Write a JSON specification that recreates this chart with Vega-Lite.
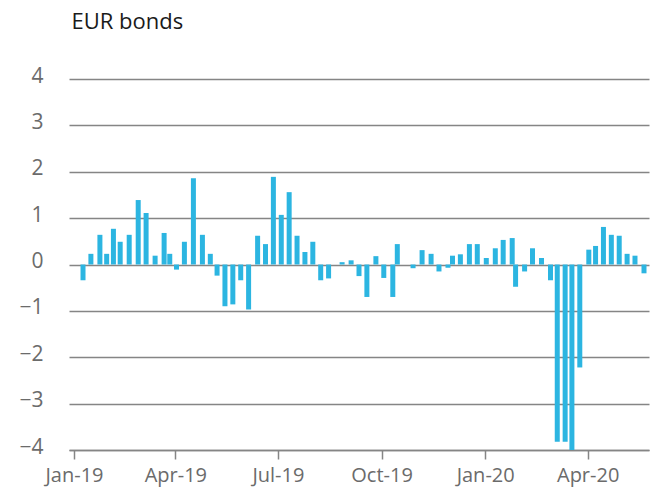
{
  "$schema": "https://vega.github.io/schema/vega-lite/v6.json",
  "autosize": {"type": "none"},
  "width": 580,
  "height": 371,
  "padding": {"left": 69, "top": 79, "right": 6, "bottom": 41},
  "background": "white",
  "config": {"view": {"stroke": null}, "font": "Open Sans"},
  "data": {
    "values": [
      {"date": "2019-01-09", "value": -0.34},
      {"date": "2019-01-16", "value": 0.23},
      {"date": "2019-01-24", "value": 0.64},
      {"date": "2019-01-30", "value": 0.23},
      {"date": "2019-02-05", "value": 0.77},
      {"date": "2019-02-11", "value": 0.49},
      {"date": "2019-02-19", "value": 0.64},
      {"date": "2019-02-27", "value": 1.39},
      {"date": "2019-03-06", "value": 1.11},
      {"date": "2019-03-14", "value": 0.19},
      {"date": "2019-03-22", "value": 0.68},
      {"date": "2019-03-27", "value": 0.23},
      {"date": "2019-04-02", "value": -0.11},
      {"date": "2019-04-09", "value": 0.49},
      {"date": "2019-04-17", "value": 1.86},
      {"date": "2019-04-25", "value": 0.64},
      {"date": "2019-05-02", "value": 0.23},
      {"date": "2019-05-08", "value": -0.24},
      {"date": "2019-05-15", "value": -0.9},
      {"date": "2019-05-22", "value": -0.86},
      {"date": "2019-05-29", "value": -0.34},
      {"date": "2019-06-05", "value": -0.97},
      {"date": "2019-06-13", "value": 0.62},
      {"date": "2019-06-20", "value": 0.44},
      {"date": "2019-06-27", "value": 1.89},
      {"date": "2019-07-04", "value": 1.07},
      {"date": "2019-07-11", "value": 1.56},
      {"date": "2019-07-18", "value": 0.62},
      {"date": "2019-07-25", "value": 0.27},
      {"date": "2019-08-01", "value": 0.49},
      {"date": "2019-08-08", "value": -0.34},
      {"date": "2019-08-15", "value": -0.3},
      {"date": "2019-08-22", "value": 0.0},
      {"date": "2019-08-27", "value": 0.05},
      {"date": "2019-09-04", "value": 0.09},
      {"date": "2019-09-11", "value": -0.25},
      {"date": "2019-09-18", "value": -0.7},
      {"date": "2019-09-26", "value": 0.18},
      {"date": "2019-10-03", "value": -0.29},
      {"date": "2019-10-11", "value": -0.7},
      {"date": "2019-10-15", "value": 0.44},
      {"date": "2019-10-29", "value": -0.08},
      {"date": "2019-11-06", "value": 0.31},
      {"date": "2019-11-14", "value": 0.23},
      {"date": "2019-11-21", "value": -0.15},
      {"date": "2019-11-29", "value": -0.07},
      {"date": "2019-12-03", "value": 0.19},
      {"date": "2019-12-10", "value": 0.22},
      {"date": "2019-12-18", "value": 0.44},
      {"date": "2019-12-25", "value": 0.44},
      {"date": "2020-01-02", "value": 0.14},
      {"date": "2020-01-10", "value": 0.35},
      {"date": "2020-01-17", "value": 0.53},
      {"date": "2020-01-25", "value": 0.57},
      {"date": "2020-01-28", "value": -0.48},
      {"date": "2020-02-05", "value": -0.15},
      {"date": "2020-02-12", "value": 0.35},
      {"date": "2020-02-20", "value": 0.14},
      {"date": "2020-02-28", "value": -0.34},
      {"date": "2020-03-05", "value": -3.82},
      {"date": "2020-03-12", "value": -3.82},
      {"date": "2020-03-18", "value": -4.0},
      {"date": "2020-03-25", "value": -2.22},
      {"date": "2020-04-02", "value": 0.32},
      {"date": "2020-04-08", "value": 0.4},
      {"date": "2020-04-15", "value": 0.81},
      {"date": "2020-04-22", "value": 0.64},
      {"date": "2020-04-29", "value": 0.62},
      {"date": "2020-05-06", "value": 0.23},
      {"date": "2020-05-13", "value": 0.19},
      {"date": "2020-05-21", "value": -0.19}
    ]
  },
  "mark": {"type": "bar", "size": 5, "color": "#2cb5e1"},
  "encoding": {
    "x": {
      "field": "date",
      "type": "temporal",
      "scale": {
        "type": "utc",
        "domain": [
          {"year": 2019, "month": 1, "date": 1, "utc": true},
          {"year": 2020, "month": 5, "date": 21, "utc": true}
        ],
        "nice": false
      },
      "axis": {
        "title": null,
        "grid": false,
        "values": [
          {"year": 2019, "month": 1, "date": 1, "utc": true},
          {"year": 2019, "month": 4, "date": 1, "utc": true},
          {"year": 2019, "month": 7, "date": 1, "utc": true},
          {"year": 2019, "month": 10, "date": 1, "utc": true},
          {"year": 2020, "month": 1, "date": 1, "utc": true},
          {"year": 2020, "month": 4, "date": 1, "utc": true}
        ],
        "labelExpr": "utcFormat(datum.value, '%b-%y')",
        "domainColor": "#858585",
        "domainWidth": 1.5,
        "tickColor": "#858585",
        "tickWidth": 1.5,
        "tickSize": 9,
        "labelPadding": 6,
        "labelFont": "Open Sans",
        "labelFontSize": 20,
        "labelColor": "#6b6b6b",
        "labelFlush": false
      }
    },
    "y": {
      "field": "value",
      "type": "quantitative",
      "scale": {"domain": [-4, 4], "nice": false},
      "axis": {
        "values": [-4, -3, -2, -1, 0, 1, 2, 3, 4],
        "domain": false,
        "ticks": false,
        "grid": true,
        "gridColor": "#858585",
        "gridWidth": 1.5,
        "labelPadding": 26,
        "labelFont": "Open Sans",
        "labelFontSize": 21,
        "labelColor": "#6b6b6b",
        "labelOffset": -3,
        "title": "EUR bonds",
        "titleAngle": 0,
        "titleX": 2,
        "titleY": -51,
        "titleAlign": "left",
        "titleBaseline": "alphabetic",
        "titleFont": "Open Sans",
        "titleFontSize": 22,
        "titleFontWeight": "normal",
        "titleColor": "#1a1a1a"
      }
    }
  }
}
